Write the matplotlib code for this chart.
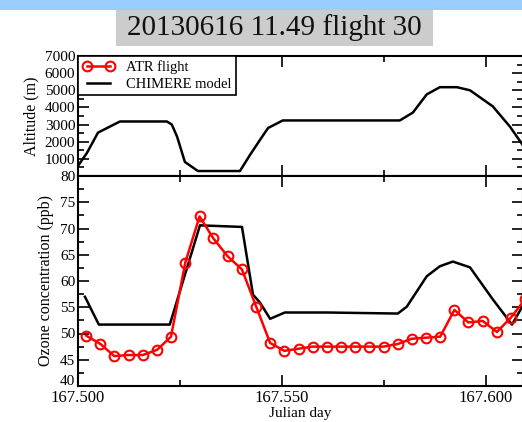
import matplotlib
matplotlib.use('Agg')
import matplotlib.pyplot as plt
from matplotlib.patches import Rectangle
from matplotlib.transforms import ScaledTranslation
from matplotlib.ticker import MultipleLocator, FormatStrFormatter, FuncFormatter

plt.rcParams['font.family'] = ['Liberation Serif', 'DejaVu Serif']

# CHIMERE model altitude (m)
alt_day = [167.5000, 167.5022, 167.5049, 167.5078, 167.5103, 167.5218, 167.5230,
           167.5243, 167.5262, 167.5294, 167.5397, 167.5422, 167.5446, 167.5466,
           167.5502, 167.5789, 167.5821, 167.5855, 167.5887, 167.5929, 167.5961,
           167.6017, 167.6059, 167.6092]
alt_model = [590, 1350, 2530, 2880, 3180, 3180, 3000, 2290, 820, 290, 290, 1240,
             2100, 2800, 3240, 3240, 3700, 4760, 5180, 5180, 5000, 4060, 2880, 1750]

# CHIMERE model ozone (ppb)
o3_model_day = [167.5017, 167.5051, 167.5225, 167.5299, 167.5402, 167.5429,
                167.5446, 167.5471, 167.5507, 167.5610, 167.5784, 167.5806,
                167.5855, 167.5887, 167.5919, 167.5961, 167.6017, 167.6064,
                167.6092]
o3_model = [57.0, 51.7, 51.7, 70.6, 70.3, 57.4, 55.9, 52.8, 54.0, 54.0, 53.8,
            55.1, 60.9, 62.8, 63.7, 62.6, 56.5, 51.7, 55.5]

# ATR flight ozone (ppb)
atr_day = [167.5020, 167.5055, 167.5089, 167.5124, 167.5159, 167.5194, 167.5228,
           167.5263, 167.5298, 167.5332, 167.5367, 167.5402, 167.5437, 167.5471,
           167.5506, 167.5541, 167.5575, 167.5610, 167.5645, 167.5680, 167.5714,
           167.5749, 167.5784, 167.5818, 167.5853, 167.5888, 167.5923, 167.5957,
           167.5992, 167.6027, 167.6061, 167.6096]
atr_o3 = [49.6, 48.0, 45.7, 45.9, 45.9, 46.9, 49.4, 63.5, 72.3, 68.1, 64.7, 62.2,
          55.1, 48.2, 46.7, 47.1, 47.5, 47.5, 47.5, 47.5, 47.5, 47.5, 48.0, 49.0,
          49.2, 49.4, 54.5, 52.1, 52.4, 50.3, 53.0, 56.5]

xmin, xmax = 167.5, 167.6091

fig = plt.figure(figsize=(5.22, 4.22), dpi=100)

# window bar and title box
fig.patches.append(Rectangle((0, 412 / 422), 1, 10 / 422, transform=fig.transFigure,
                             facecolor='#99ccff', edgecolor='none', zorder=0))
fig.patches.append(Rectangle((116 / 522, 376 / 422), 317 / 522, 36 / 422,
                             transform=fig.transFigure, facecolor='#cccccc',
                             edgecolor='none', zorder=0))
fig.text(274 / 522, 394 / 422, '20130616 11.49 flight 30', ha='center', va='center',
         fontsize=21, color='#111111')

ax1 = fig.add_axes([78 / 522, 246 / 422, 445 / 522, 120 / 422])
ax2 = fig.add_axes([78 / 522, 36 / 422, 445 / 522, 210 / 422])

for ax in (ax1, ax2):
    ax.set_xlim(xmin, xmax)
    ax.xaxis.set_major_locator(MultipleLocator(0.05))
    ax.xaxis.set_minor_locator(MultipleLocator(0.025))
    ax.tick_params(which='both', direction='in', top=True, right=True, width=1.2)
    ax.tick_params(which='major', length=8)
    ax.tick_params(which='minor', length=4)
    ax.tick_params(axis='y', labelsize=11, pad=2)
    for s in ax.spines.values():
        s.set_linewidth(1.5)

ax1.plot(alt_day, alt_model, color='black', lw=1.8)
ax1.set_ylim(0, 7000)
ax1.yaxis.set_major_locator(MultipleLocator(1000))
ax1.yaxis.set_minor_locator(MultipleLocator(500))
# the 0 label sits under the 80 of the lower panel
ax1.yaxis.set_major_formatter(FuncFormatter(lambda v, p: '' if v == 0 else '%d' % v))
ax1.tick_params(axis='x', labelbottom=False)
ax1.set_ylabel('Altitude (m)', fontsize=11.5, labelpad=4)

# legend handles
atr_h, = ax1.plot([], [], color='red', lw=1.8, marker='o', mfc='none', mec='red',
                  ms=7, mew=1.5)
mod_h, = ax1.plot([], [], color='black', lw=1.8)
leg = ax1.legend([atr_h, mod_h], ['ATR flight', 'CHIMERE model'], loc='upper left',
                 bbox_to_anchor=(0, 1), borderaxespad=0, fontsize=10.5,
                 fancybox=False, edgecolor='black', framealpha=1, numpoints=2,
                 handlelength=2.2, borderpad=0.3, labelspacing=0.25)
leg.get_frame().set_linewidth(1.2)

ax2.plot(o3_model_day, o3_model, color='black', lw=1.8, zorder=2)
ax2.plot(atr_day, atr_o3, color='red', lw=1.8, marker='o', mfc='none', mec='red',
         ms=7, mew=1.5, zorder=3)
ax2.set_ylim(40, 80)
ax2.yaxis.set_major_locator(MultipleLocator(5))
ax2.yaxis.set_minor_locator(MultipleLocator(2.5))
ax2.xaxis.set_major_formatter(FormatStrFormatter('%.3f'))
ax2.tick_params(axis='x', labelsize=12, pad=3)
ax2.set_ylabel('Ozone concentration (ppb)', fontsize=11.5, labelpad=4)
ax2.set_xlabel('Julian day', fontsize=11, labelpad=0.5)

# lift the bottom "40" a little so it clears 167.500
fig.canvas.draw()
for lab in ax2.get_yticklabels():
    if lab.get_text() == '40':
        lab.set_transform(lab.get_transform() +
                          ScaledTranslation(0, 4 / 72, fig.dpi_scale_trans))

fig.savefig('out.png', dpi=100)
